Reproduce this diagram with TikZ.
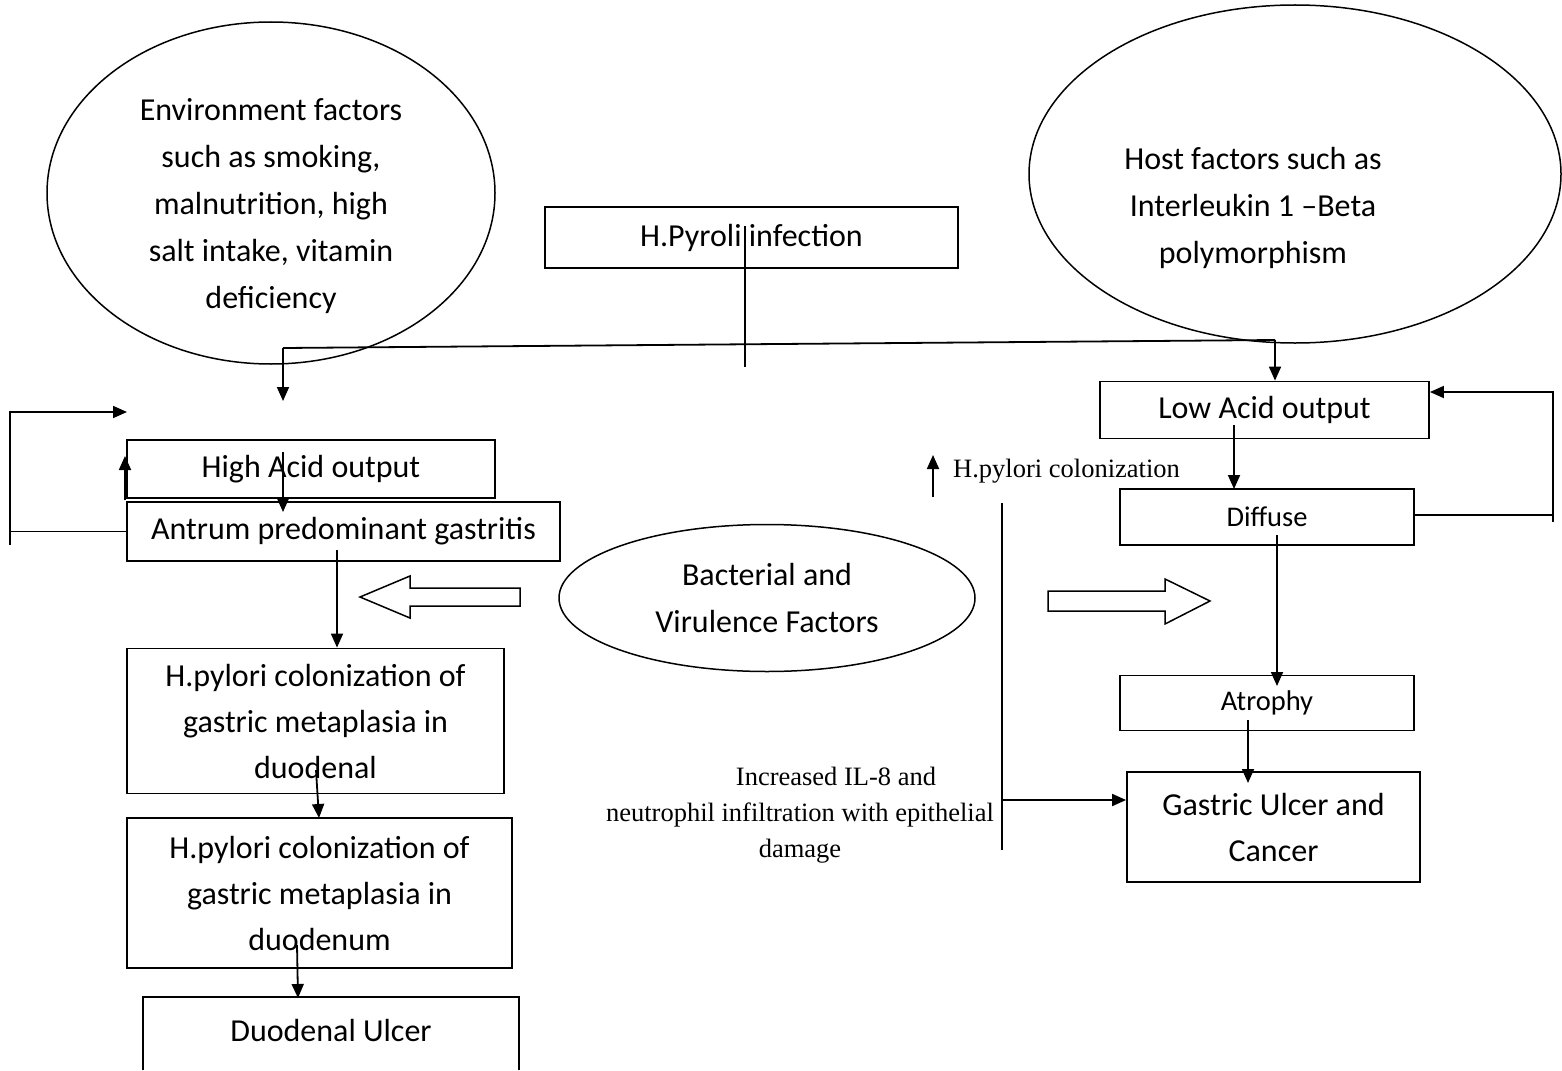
\documentclass[tikz,border=0pt]{standalone}
\usepackage{fontspec}
\usetikzlibrary{arrows.meta,shapes.geometric}
\newfontfamily\boxfont{Carlito}
\newfontfamily\serfont{Liberation Serif}
\begin{document}
\begin{tikzpicture}[x=1pt,y=-1pt,
  ln/.style={line width=1.8pt},
  arr/.style={line width=1.8pt,-{Triangle[length=14pt,width=12pt]}},
  rbox/.style={draw,line width=1.8pt,inner sep=0pt,font=\boxfont\fontsize{32}{46}\selectfont,align=center},
  ell/.style={draw,ellipse,line width=1.5pt,inner sep=0pt},
  etxt/.style={inner sep=0pt,font=\boxfont\fontsize{32}{47}\selectfont,align=center},
  stxt/.style={inner sep=0pt,font=\serfont\fontsize{26.5}{36}\selectfont,align=center},
  hollow/.style={draw,line width=1.5pt,fill=white}]
\useasboundingbox (0,0) rectangle (1562,1070);
\fill[white] (0,0) rectangle (1562,1070);

% ellipses
\node[ell,minimum width=448pt,minimum height=342pt] (env) at (271,193) {};
\node[etxt] (envt) at (271,206) {Environment factors\\such as smoking,\\malnutrition, high\\salt intake, vitamin\\deficiency};
\node[ell,minimum width=532pt,minimum height=338pt] (host) at (1295,174) {};
\node[etxt] (hostt) at (1253,208) {Host factors such as\\Interleukin 1 –Beta\\polymorphism};
\node[ell,minimum width=416pt,minimum height=147pt] (bact) at (767,598) {};
\node[etxt] (bactt) at (767,598) {Bacterial and\\Virulence Factors};

% boxes
\node[rbox,minimum width=413pt,minimum height=61pt] (hpyl) at (751.5,237.5) {H.Pyroli infection};
\node[rbox,minimum width=368pt,minimum height=58pt] (ha) at (311,469) {High Acid output};
\node[rbox,minimum width=433pt,minimum height=59pt,fill=white] (ant) at (343.5,531.5) {Antrum predominant gastritis};
\node[rbox,minimum width=377pt,minimum height=145pt] (col1) at (315.5,721) {H.pylori colonization of\\gastric metaplasia in\\duodenal};
\node[rbox,minimum width=385pt,minimum height=150pt] (col2) at (319.5,893) {H.pylori colonization of\\gastric metaplasia in\\duodenum};
\node[inner sep=0pt,minimum width=376pt,minimum height=73pt] (du) at (331,1033.5) {};
\draw[ln] (du.south west) -- (du.north west) -- (du.north east) -- (du.south east);
\node[etxt] (dut) at (331,1030) {Duodenal Ulcer};
\node[rbox,minimum width=329pt,minimum height=57pt] (la) at (1264.5,410) {Low Acid output};
\node[rbox,minimum width=294pt,minimum height=56pt,font=\boxfont\fontsize{28.5}{40}\selectfont] (dif) at (1267,517) {Diffuse};
\node[rbox,minimum width=294pt,minimum height=55pt,font=\boxfont\fontsize{28.5}{40}\selectfont] (atr) at (1267,703) {Atrophy};
\node[rbox,minimum width=293pt,minimum height=110pt] (gc) at (1273.5,827) {Gastric Ulcer and\\Cancer};

% labels
\node[stxt,anchor=west] (colt) at (953,471) {H.pylori colonization};
\node[stxt] (ilt) at (800,815) {\hspace*{72pt}Increased IL-8 and\\neutrophil infiltration with epithelial\\damage};

% coordinates
\coordinate (jL) at (283,348);
\coordinate (jR) at (1275,340);
\coordinate (envTip) at (283,401);
\coordinate (hpLow) at (745,367);
\coordinate (fbTop) at (127,412);
\coordinate (fbBot) at (10,545);
\coordinate (rfb) at (1553,515);
\coordinate (vtop) at (1002,503);
\coordinate (vbot) at (1002,850);
\coordinate (vmid) at (1002,800);

% connectors
\draw[ln] ([xshift=-6.5pt,yshift=12pt]hpyl.center) -- (hpLow);
\draw[ln] (jL) -- (jR);
\draw[arr] (jL) -- (envTip);
\draw[arr] (jR) -- (la.north -| jR);
\draw[arr] (283,452) -- (283,512);
\draw[arr] (125,500) -- (125,456);
\draw[ln] (ant.west) -- (fbBot |- ant.west);
\draw[arr] (fbBot) -- (fbBot |- fbTop) -- (fbTop);
\draw[arr] (337,550) -- (col1.north -| 337,0);
\draw[arr] (316,770) -- (319,818);
\draw[arr] (297,945) -- (298,998);
\draw[arr] (1234,425) -- (1234,489);
\draw[ln] (dif.east |- rfb) -- (rfb) -- ++(0,7);
\draw[arr] (rfb) -- (rfb |- 0,392) -- (la.east |- 0,392);
\draw[arr] (1277,535) -- (1277,686);
\draw[arr] (1248,720) -- (1248,783);
\draw[arr] (933,497) -- (933,455);
\draw[ln] (vtop) -- (vbot);
\draw[arr] (vmid) -- (gc.west |- vmid);

% hollow arrows
\draw[hollow] (360,597) -- (410,576) -- (410,588) -- (520,588) -- (520,606) -- (410,606) -- (410,618) -- cycle;
\draw[hollow] (1210,601) -- (1165,579) -- (1165,591) -- (1048,591) -- (1048,611) -- (1165,611) -- (1165,624) -- cycle;
\end{tikzpicture}
\end{document}
